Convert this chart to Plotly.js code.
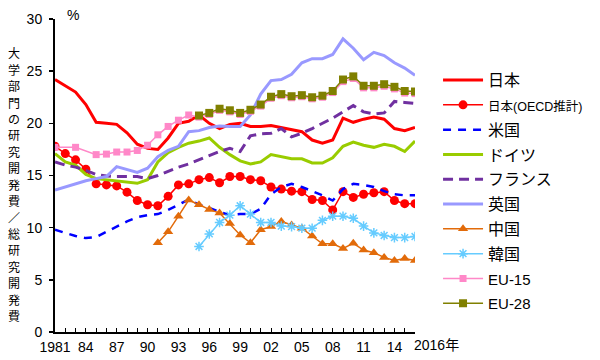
<!DOCTYPE html>
<html>
<head>
<meta charset="utf-8">
<script src="https://cdn.plot.ly/plotly-3.0.1.min.js"></script>
<style>html,body{margin:0;padding:0;background:#fff;}#chart{width:600px;height:360px;}</style>
</head>
<body>
<div id="chart"></div>
<script>
const years = [1981,1982,1983,1984,1985,1986,1987,1988,1989,1990,1991,1992,1993,1994,1995,1996,1997,1998,1999,2000,2001,2002,2003,2004,2005,2006,2007,2008,2009,2010,2011,2012,2013,2014,2015,2016];

const japan = [24.2,23.6,23.0,21.8,20.1,20.0,19.9,19.1,18.0,17.6,17.5,18.6,20.0,20.2,20.8,20.0,19.5,19.9,20.0,19.7,19.7,19.8,19.6,19.4,19.2,18.4,18.1,18.4,20.5,20.1,20.4,20.6,20.4,19.5,19.3,19.6];
const japanOECD = [17.8,17.1,16.5,15.6,14.2,14.1,14.0,13.4,12.6,12.2,12.1,13.0,14.1,14.2,14.6,14.8,14.3,14.9,14.9,14.6,14.5,13.9,13.7,13.5,13.45,12.7,12.6,11.7,13.45,12.9,13.2,13.35,13.45,12.6,12.3,12.3];
const usa = [9.8,9.5,9.2,9.0,9.1,9.6,10.1,10.6,11.0,11.2,11.3,11.7,12.2,12.7,12.2,11.9,11.5,11.2,11.3,11.3,11.8,13.2,13.9,14.2,13.9,13.5,13.1,12.6,13.7,14.2,14.1,13.9,13.5,13.2,13.1,13.1];
const germany = [17.1,16.3,16.0,15.1,14.7,14.6,14.5,14.4,14.25,14.6,16.3,17.2,17.7,18.1,18.3,18.6,17.7,17.0,16.4,16.1,16.3,17.0,16.8,16.6,16.6,16.2,16.2,16.7,17.8,18.2,17.9,17.7,18.0,17.8,17.3,18.3];
const france = [16.3,16.0,15.8,15.5,15.1,14.95,14.9,14.9,14.9,14.7,15.0,15.4,15.8,16.1,16.5,16.9,17.3,17.6,17.3,18.8,19.0,19.05,19.5,18.7,19.05,19.5,20.0,20.5,21.1,21.7,21.1,20.9,21.0,22.1,22.0,21.9];
const uk = [13.6,13.9,14.2,14.5,14.7,14.9,15.85,15.6,15.3,15.7,16.8,17.4,17.8,19.2,19.3,19.6,19.75,19.7,19.7,20.8,22.8,24.1,24.2,24.7,25.8,26.2,26.2,26.6,28.1,27.2,26.1,26.8,26.5,25.8,25.3,24.6];
const china = [null,null,null,null,null,null,null,null,null,null,8.55,9.6,11.1,12.65,12.2,11.75,11.4,10.4,9.3,8.55,9.8,10.1,10.6,10.25,9.95,9.2,8.45,8.45,8.0,8.5,7.85,7.6,7.15,6.85,7.05,6.85];
const korea = [null,null,null,null,null,null,null,null,null,null,null,null,null,null,8.2,9.4,10.5,11.2,12.1,11.3,10.5,10.5,10.15,10.1,9.95,9.95,10.7,11.1,11.1,10.9,10.15,9.5,9.25,9.05,9.05,9.15];
const eu15 = [17.7,null,17.7,null,17.0,17.05,17.25,17.25,17.4,17.9,18.9,19.7,20.3,20.8,20.6,20.85,21.25,21.1,20.85,21.15,21.65,22.4,22.65,22.45,22.55,22.35,22.5,22.95,24.0,24.3,23.4,23.4,23.55,23.3,22.9,22.85];
const eu28 = [null,null,null,null,null,null,null,null,null,null,null,null,null,null,20.75,21.0,21.4,21.25,21.0,21.3,21.8,22.55,22.8,22.6,22.7,22.5,22.65,23.1,24.2,24.5,23.6,23.6,23.75,23.5,23.1,23.05];

const seriesNames = ['日本','<span style="font-size:12.5px">日本(OECD推計)</span>','米国','ドイツ','フランス','英国','中国','韓国','<span style="font-size:15px">EU-15</span>','<span style="font-size:15px">EU-28</span>'];
const xTickVals = years;
const xTickText = ['1981','','','84','','','87','','','90','','','93','','','96','','','99','','','02','','','05','','','08','','','11','','','14','',''];
const yTitleText = '大学部門の研究開発費／総研究開発費';

const F = 'Liberation Sans, Arial, Noto Sans CJK JP, sans-serif';
const FJ = 'Noto Sans CJK JP, sans-serif';

function line(y, name, color, width, dash, marker) {
  const t = {x: years, y: y, name: name, legendgroup: 'g' + name, type: 'scatter', mode: marker ? 'lines+markers' : 'lines',
    connectgaps: true, line: {color: color, width: width, dash: dash || 'solid'}};
  if (marker) t.marker = marker;
  return t;
}

const traces = [
  line(japan, seriesNames[0], '#ff0000', 3),
  line(japanOECD, seriesNames[1], '#ff0000', 1.5, 'solid', {symbol: 'circle', size: 9, color: '#ff0000'}),
  line(usa, seriesNames[2], '#0000ff', 2.5, '8px,7px'),
  line(germany, seriesNames[3], '#99cc00', 3),
  line(france, seriesNames[4], '#7030a0', 3, '10px,6px'),
  line(uk, seriesNames[5], '#9999ff', 3),
  line(china, seriesNames[6], '#e26b0a', 1.5, 'solid', {symbol: 'triangle-up', size: 9, color: '#e26b0a'}),
  line(korea, seriesNames[7], '#66ccff', 1.5, 'solid', {symbol: 'asterisk-open', size: 8, color: '#66ccff', line: {color: '#66ccff', width: 1.5}}),
  line(eu15, seriesNames[8], '#ff88c8', 1.5, 'solid', {symbol: 'square', size: 7, color: '#ff88c8'}),
  line(eu28, seriesNames[9], '#808000', 1.5, 'solid', {symbol: 'square', size: 8, color: '#808000'})
];

const annotations = [];
yTitleText.split('').forEach((ch, i) => {
  const ypx = 52.7 + i * 16.44;
  annotations.push({xref: 'paper', yref: 'paper', x: -0.115, y: (332 - ypx) / 313, xanchor: 'center', yanchor: 'middle',
    showarrow: false, borderpad: 0, text: ch, font: {family: FJ, size: 12, color: '#000'}});
});
annotations.push({xref: 'paper', yref: 'paper', x: 0.05, y: 1.0, xanchor: 'center', yanchor: 'bottom', yshift: -6, showarrow: false,
  text: '%', font: {family: F, size: 14, color: '#000'}});
annotations.push({xref: 'x', yref: 'paper', x: 2016, y: 0, xanchor: 'left', yanchor: 'top', xshift: -3, yshift: -3, showarrow: false,
  text: '2016年', font: {family: F, size: 14, color: '#000'}});

const layout = {
  width: 600, height: 360,
  margin: {l: 55, r: 172, t: 19, b: 28},
  paper_bgcolor: '#fff', plot_bgcolor: '#fff',
  font: {family: F, size: 14, color: '#000'},
  showlegend: true,
  legend: {x: 1.064, xanchor: 'left', y: 0.859, yanchor: 'top', font: {family: F, size: 16, color: '#000'},
    bgcolor: 'rgba(0,0,0,0)', tracegroupgap: 1, itemwidth: 40},
  xaxis: {range: [1981, 2016], showgrid: false, zeroline: false, showline: true, linecolor: '#000', linewidth: 1.5,
    tickmode: 'array', tickvals: xTickVals, ticktext: xTickText, ticks: 'inside', ticklen: 4, tickcolor: '#000', tickwidth: 1,
    tickfont: {family: F, size: 14, color: '#000'}, ticklabelstandoff: 2},
  yaxis: {range: [0, 30], showgrid: false, zeroline: false, showline: true, linecolor: '#000', linewidth: 2,
    tickmode: 'array', tickvals: [0,5,10,15,20,25,30], ticks: 'outside', ticklen: 4, tickcolor: '#000', tickwidth: 1.5,
    tickfont: {family: F, size: 14, color: '#000'}, ticklabelstandoff: 4},
  annotations: annotations
};

Plotly.newPlot('chart', traces, layout, {displayModeBar: false, staticPlot: true});
</script>
</body>
</html>
